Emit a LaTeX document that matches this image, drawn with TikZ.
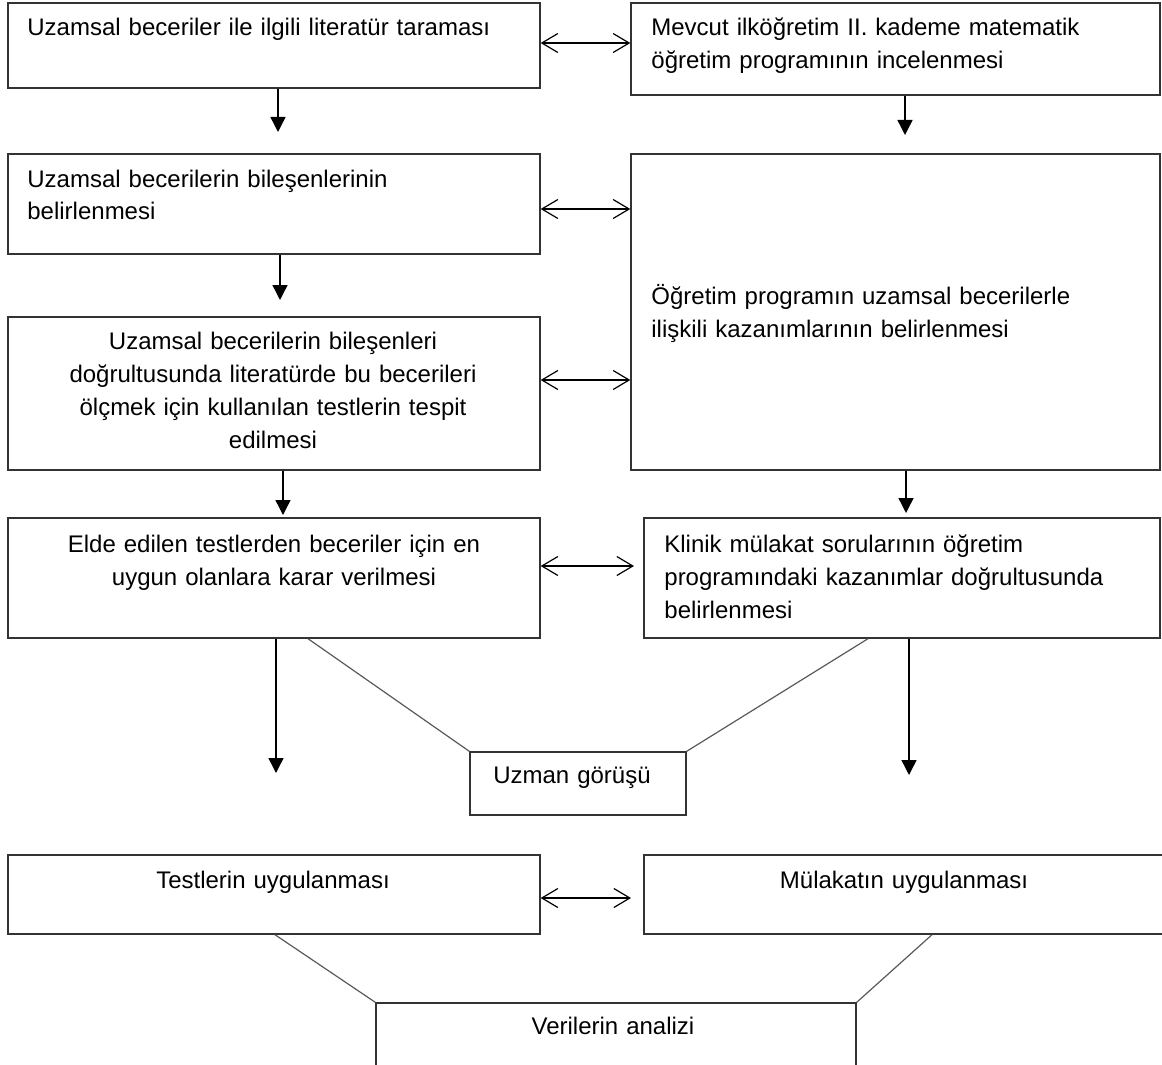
\documentclass[tikz,border=0pt]{standalone}
\usepackage{fontspec}
\setmainfont{Liberation Sans}
\usetikzlibrary{arrows.meta,fit}
\begin{document}
\begin{tikzpicture}[x=0.5pt,y=-0.5pt]
		\tikzset{
			my box/.style = {draw=black!80, line width=0.7pt, inner sep=0pt},
			my text/.style = {inner sep=0pt, text width=250pt, align=left, font=\fontsize{12}{16.5}\selectfont},
			my down/.style = {line width=0.7pt, -{Triangle[length=7.5pt,width=7.5pt]}},
			my both/.style = {line width=0.6pt, {Straight Barb[length=8pt,width=9.5pt]}-{Straight Barb[length=8pt,width=9.5pt]}},
			my link/.style = {draw=black!65, line width=0.6pt}}

		\useasboundingbox (0,0) rectangle (1162,1065);

		\node[my box, fit={(8,3) (540,88)}] (lit) {};
		\node[my box, fit={(631,3) (1160,95)}] (prog) {};
		\node[my box, fit={(8,154) (540,254)}] (comp) {};
		\node[my box, fit={(631,154) (1160,470)}] (gain) {};
		\node[my box, fit={(8,317) (540,470)}] (tests) {};
		\node[my box, fit={(8,518) (540,638)}] (choice) {};
		\node[my box, fit={(644,518) (1160,638)}] (quest) {};
		\node[my box, fit={(470,752) (686,815)}] (expert) {};
		\node[my box, fit={(8,855) (540,934)}] (apply) {};
		\node[my box, fit={(644,855) (1175,934)}] (interv) {};
		\node[my box, fit={(376,1003) (856,1080)}] (anal) {};

		\node[my text, anchor=base west] (lit text) at (27,36) {Uzamsal beceriler ile ilgili literatür taraması};
		\node[my text, anchor=base west] (prog text) at (651,36) {Mevcut ilköğretim II. kademe matematik\\öğretim programının incelenmesi};
		\node[my text, anchor=base west] (comp text) at (27,187) {Uzamsal becerilerin bileşenlerinin\\belirlenmesi};
		\node[my text, anchor=base west] (gain text) at (651,304) {Öğretim programın uzamsal becerilerle\\ilişkili kazanımlarının belirlenmesi};
		\node[my text, align=center, anchor=base] (tests text) at (273,349) {Uzamsal becerilerin bileşenleri\\doğrultusunda literatürde bu becerileri\\ölçmek için kullanılan testlerin tespit\\edilmesi};
		\node[my text, align=center, anchor=base] (choice text) at (274,552) {Elde edilen testlerden beceriler için en\\uygun olanlara karar verilmesi};
		\node[my text, anchor=base west] (quest text) at (664,552) {Klinik mülakat sorularının öğretim\\programındaki kazanımlar doğrultusunda\\belirlenmesi};
		\node[my text, align=center, anchor=base] (expert text) at (572,783) {Uzman görüşü};
		\node[my text, align=center, anchor=base] (apply text) at (273,888) {Testlerin uygulanması};
		\node[my text, align=center, anchor=base] (interv text) at (904,888) {Mülakatın uygulanması};
		\node[my text, align=center, anchor=base] (anal text) at (613,1034) {Verilerin analizi};

		\coordinate (e1) at (278,132);
		\coordinate (e2) at (905,135);
		\coordinate (e3) at (280,300);
		\coordinate (e4) at (283,515);
		\coordinate (e5) at (906,513);
		\coordinate (e6) at (276,773);
		\coordinate (e7) at (909,775);
		\draw[my down] (lit.south -| e1) -- (e1);
		\draw[my down] (prog.south -| e2) -- (e2);
		\draw[my down] (comp.south -| e3) -- (e3);
		\draw[my down] (tests.south -| e4) -- (e4);
		\draw[my down] (gain.south -| e5) -- (e5);
		\draw[my down] (choice.south -| e6) -- (e6);
		\draw[my down] (quest.south -| e7) -- (e7);

		\coordinate (h1) at (0,43);
		\coordinate (h2) at (0,209);
		\coordinate (h3) at (0,380);
		\coordinate (h4) at (634,566);
		\coordinate (h5) at (631,898);
		\draw[my both] (lit.east |- h1) -- (prog.west |- h1);
		\draw[my both] (comp.east |- h2) -- (gain.west |- h2);
		\draw[my both] (tests.east |- h3) -- (gain.west |- h3);
		\draw[my both] (choice.east |- h4) -- (h4);
		\draw[my both] (apply.east |- h5) -- (h5);

		\coordinate (l1) at (308,0);
		\coordinate (l2) at (868,0);
		\coordinate (l3) at (275,0);
		\coordinate (l4) at (932,0);
		\draw[my link] (choice.south -| l1) -- (expert.north west);
		\draw[my link] (quest.south -| l2) -- (expert.north east);
		\draw[my link] (apply.south -| l3) -- (anal.north west);
		\draw[my link] (interv.south -| l4) -- (anal.north east);
	\end{tikzpicture}
\end{document}
